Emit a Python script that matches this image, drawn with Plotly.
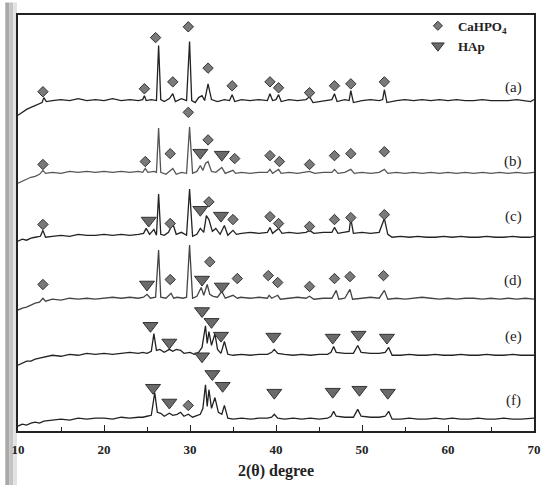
import plotly.graph_objects as go

# ---------------- data (2-theta in degrees, intensity in arbitrary units above each trace's baseline) -------------
labels = ["(a)", "(b)", "(c)", "(d)", "(e)", "(f)"]

xa = [10.0,10.5,11.0,11.5,12.0,12.5,12.8,13.0,13.3,14.0,15.0,16.0,17.0,18.0,19.0,20.0,21.0,22.0,23.0,24.0,24.5,24.7,24.9,25.5,26.1,26.35,26.6,27.0,27.6,28.0,28.3,29.0,29.6,29.95,30.2,30.6,31.0,31.4,31.7,32.1,32.5,33.2,34.0,34.6,34.9,35.2,36.0,37.0,38.0,39.0,39.3,39.6,40.0,40.3,40.6,41.5,42.5,43.5,43.9,44.3,45.5,46.5,46.8,47.1,48.0,48.5,48.7,49.0,50.0,51.0,52.0,52.4,52.6,52.9,54.0,55.0,56.0,57.0,58.0,59.0,60.0,61.0,62.0,63.0,64.0,65.0,66.0,67.0,68.0,69.0,69.6,70.0]
ya = [-14,-11,-8,-6,-4,-2,-1,4,0,1,2,1,3,1,2,1,3,1,2,1,2,6,1,2,1,57,2,0,3,8,0,3,1,61,1,-1,4,6,1,18,2,0,2,1,7,0,2,1,2,1,8,1,2,7,0,2,1,2,5,-1,1,2,8,0,2,1,11,-1,1,2,1,2,12,-1,1,2,1,2,1,2,1,2,1,1,2,1,1,1,2,1,0,2]

xb = [10.0,10.5,11.0,11.5,12.0,12.5,12.9,13.2,14.0,15.0,16.0,17.0,18.0,19.0,20.0,21.0,22.0,23.0,24.0,24.5,24.8,25.1,25.8,26.1,26.35,26.6,27.2,27.7,28.0,28.4,29.0,29.6,29.95,30.3,30.8,31.2,31.5,31.8,32.1,32.5,33.0,33.7,34.1,35.0,35.3,36.0,37.0,38.0,39.0,39.3,39.6,40.3,40.6,41.5,42.5,43.9,44.5,45.5,46.5,46.8,47.2,48.0,48.7,49.1,50.0,51.0,52.0,52.6,53.0,54.0,55.0,56.0,57.0,58.0,59.0,60.0,61.0,62.0,63.0,64.0,65.0,66.0,67.0,68.0,69.0,70.0]
yb = [-10,-8,-6,-4,-3,-1,3,0,1,0,2,1,2,1,2,1,2,1,2,1,5,1,2,1,46,1,-1,3,5,-1,1,0,47,0,2,8,3,10,12,2,1,6,0,3,0,1,0,1,1,4,0,4,0,1,0,2,0,1,1,4,0,1,4,0,1,0,1,4,0,1,0,1,0,1,0,1,0,1,0,1,0,1,0,1,0,1]

xc = [10.0,10.5,11.0,11.5,12.0,12.6,12.9,13.2,14.0,15.0,16.0,17.0,18.0,19.0,20.0,21.0,22.0,23.0,24.0,24.6,24.9,25.3,25.8,26.1,26.35,26.6,27.0,27.5,28.0,28.4,29.0,29.6,29.95,30.3,30.8,31.2,31.6,31.9,32.2,32.6,33.0,33.5,34.0,34.4,35.0,35.4,36.0,37.0,38.0,39.0,39.3,39.6,40.3,40.7,41.5,42.5,43.5,43.9,44.4,45.5,46.5,46.8,47.2,48.0,48.5,48.7,49.0,50.0,51.0,52.0,52.6,53.0,53.5,54.5,55.5,56.5,57.5,58.5,59.5,60.5,61.5,62.5,63.5,64.5,65.5,66.5,67.5,68.5,69.5,70.0]
yc = [-4,-2,-3,-1,0,1,7,0,1,2,1,3,2,2,3,2,3,2,3,4,9,3,8,2,44,3,2,5,14,3,5,2,49,1,3,9,5,22,18,6,9,3,12,2,7,3,4,5,4,5,10,4,9,4,5,4,5,7,4,5,5,10,4,5,6,19,4,5,4,5,19,3,0,1,0,1,0,0,1,0,1,0,0,1,0,0,1,0,0,1]

xd = [10.0,10.5,11.0,11.5,12.0,12.5,12.9,13.2,14.0,15.0,16.0,17.0,18.0,19.0,20.0,21.0,22.0,23.0,24.0,24.6,25.0,25.4,26.0,26.35,26.6,27.2,27.8,28.1,28.5,29.2,29.6,29.95,30.3,30.8,31.3,31.6,32.0,32.3,32.7,33.2,33.7,34.1,35.0,35.5,35.9,37.0,38.0,39.0,39.2,39.5,40.2,40.5,41.5,42.5,43.5,43.9,44.4,45.5,46.5,47.0,47.3,48.0,48.6,48.9,50.0,51.0,52.0,52.6,53.0,54.0,55.0,56.0,57.0,58.0,59.0,60.0,61.0,62.0,63.0,64.0,65.0,66.0,67.0,68.0,69.0,70.0]
yd = [-11,-9,-8,-6,-4,-3,1,-2,0,-1,1,0,1,0,1,2,1,2,1,2,5,1,2,50,2,1,6,1,2,1,2,55,1,3,12,4,15,5,3,2,8,1,4,1,2,1,2,1,4,1,4,0,1,2,1,3,0,1,1,9,0,1,10,0,1,2,1,9,0,1,0,1,2,1,0,1,0,1,1,0,1,0,1,0,1,0]

xe = [10.0,10.5,11.0,11.5,12.0,12.5,13.0,13.5,14.0,15.0,16.0,17.0,18.0,19.0,20.0,21.0,22.0,23.0,24.0,24.5,25.0,25.5,25.8,26.1,26.5,27.0,27.6,28.0,28.4,28.9,29.3,30.0,30.5,31.0,31.4,31.8,32.0,32.2,32.5,32.9,33.2,33.6,34.0,34.4,35.0,36.0,37.0,38.0,39.0,39.5,39.8,40.2,41.0,42.0,43.0,44.0,45.0,46.0,46.4,46.7,47.0,48.0,49.0,49.5,49.9,51.0,52.0,52.7,53.1,53.5,54.5,55.5,56.5,57.5,58.5,59.5,60.5,61.5,62.5,63.5,64.5,65.5,66.5,67.5,68.5,69.5,70.0]
ye = [-10,-8,-6,-6,-4,-3,-2,-1,0,-1,1,0,2,1,2,1,2,3,2,3,2,4,22,5,6,3,6,4,6,5,2,3,1,3,8,30,12,24,10,22,6,2,14,1,0,1,0,1,1,3,6,2,1,0,1,0,1,1,3,9,3,2,2,10,3,2,2,3,8,0,0,1,0,0,1,0,0,1,0,0,1,0,0,1,0,0,0]

xf = [10.0,10.5,11.0,11.5,12.0,12.5,13.0,14.0,15.0,16.0,17.0,18.0,19.0,20.0,21.0,22.0,23.0,24.0,24.5,25.0,25.5,25.9,26.2,26.6,27.0,27.6,28.0,28.5,28.9,29.3,29.8,30.3,30.8,31.2,31.5,31.8,32.0,32.2,32.5,32.9,33.3,33.7,34.0,34.4,35.0,36.0,37.0,38.0,39.0,39.5,39.8,40.2,41.0,42.0,43.0,44.0,45.0,46.0,46.4,46.7,47.0,48.0,49.0,49.5,49.9,51.0,52.0,52.7,53.1,53.5,54.5,55.5,56.5,57.5,58.5,59.5,60.5,61.5,62.5,63.5,64.5,65.5,66.5,67.5,68.5,69.5,70.0]
yf = [-6,-4,-5,-3,-2,-3,-1,0,1,0,2,1,2,2,1,3,2,3,3,4,5,28,8,7,4,7,5,6,8,4,6,3,5,6,12,36,14,31,12,23,8,6,15,2,1,2,1,2,2,3,6,2,1,2,1,2,1,2,4,9,4,3,3,11,4,3,3,4,9,1,1,2,1,1,2,1,2,1,1,2,1,1,2,1,1,2,2]

X = [xa, xb, xc, xd, xe, xf]
Y = [ya, yb, yc, yd, ye, yf]

# CaHPO4 (diamond) and HAp (triangle) marker annotations: (2-theta, height above baseline)
dia_x = [[12.9,24.7,26.0,28.0,29.8,32.1,34.9,39.3,40.3,43.9,46.8,48.7,52.6],
         [12.9,24.8,27.7,29.8,32.1,35.2,39.3,40.4,43.9,46.8,48.7,52.6],
         [12.9,27.7,32.2,35.0,39.3,40.3,43.9,46.8,48.7,52.6],
         [12.9,27.7,32.3,35.5,39.1,40.2,43.9,46.8,48.6,52.5],
         [],
         [29.8]]
dia_h = [[10,13,65,20,76,34,16,20,14,9,16,18,20],
         [9,12,20,62,34,15,18,12,9,18,20,22],
         [13,14,36,18,21,14,11,18,20,23],
         [15,20,38,21,24,17,13,21,23,24],
         [],
         [15]]
tri_x = [[],
         [31.2,33.7],
         [25.2,31.2,33.6],
         [25.0,31.4,33.7],
         [25.4,27.6,31.4,32.5,33.6,39.7,46.6,49.6,52.9],
         [25.7,27.6,31.4,32.6,33.8,39.8,46.6,49.7,53.0]]
tri_h = [[],
         [21,19],
         [17,28,22],
         [15,20,13],
         [30,13,45,34,20,19,18,21,18],
         [33,18,65,47,35,28,29,31,28]]

x_ticks = [10, 20, 30, 40, 50, 60, 70]

# ---------------- layout constants -------------
OFFSETS = [335, 262, 197, 134, 77, 11]      # vertical stacking of the six patterns
LABEL_DY = [14, 12, 21, 19, 19, 20]         # label height above each baseline
LABEL_X = 67.6
SERIF = "Liberation Serif"
LINE_COLORS = ["#222222", "#555555", "#222222", "#444444", "#222222", "#222222"]

fig = go.Figure()

for i in range(6):
    off = OFFSETS[i]
    fig.add_trace(go.Scatter(
        x=X[i], y=[off + v for v in Y[i]], mode="lines",
        line=dict(color=LINE_COLORS[i], width=1.3),
        showlegend=False, hoverinfo="skip"))

for i in range(6):
    off = OFFSETS[i]
    if dia_x[i]:
        fig.add_trace(go.Scatter(
            x=dia_x[i], y=[off + h for h in dia_h[i]], mode="markers",
            marker=dict(symbol="diamond", size=8, color="#7a7a7a",
                        line=dict(color="#333333", width=1)),
            showlegend=False, hoverinfo="skip", cliponaxis=False))
    if tri_x[i]:
        fig.add_trace(go.Scatter(
            x=tri_x[i], y=[off + h for h in tri_h[i]], mode="markers",
            marker=dict(symbol="triangle-down", size=13, color="#6a6a6a",
                        line=dict(color="#333333", width=1)),
            showlegend=False, hoverinfo="skip", cliponaxis=False))

# legend entries
fig.add_trace(go.Scatter(x=[None], y=[None], mode="markers", name="CaHPO<sub>4</sub>",
                         marker=dict(symbol="diamond", size=7, color="#7a7a7a",
                                     line=dict(color="#333333", width=1))))
fig.add_trace(go.Scatter(x=[None], y=[None], mode="markers", name="HAp",
                         marker=dict(symbol="triangle-down", size=11, color="#6a6a6a",
                                     line=dict(color="#333333", width=1))))

for i, lab in enumerate(labels):
    fig.add_annotation(x=LABEL_X, y=OFFSETS[i] + LABEL_DY[i], text=lab, showarrow=False,
                       font=dict(family=SERIF, size=15, color="#222222"),
                       xanchor="center", yanchor="middle")

# faint scan shadow along the left edge of the page
for x0, x1, col in [(0, 4, "#a8a8a8"), (4, 8, "#c4c4c4"), (8, 12, "#e2e2e2")]:
    fig.add_shape(type="rect", xref="paper", yref="paper",
                  x0=(x0 - 13) / 528, x1=(x1 - 13) / 528, y0=-0.13, y1=1.03,
                  fillcolor=col, line=dict(width=0), layer="below")

fig.update_layout(
    width=552, height=488,
    margin=dict(l=13, r=11, t=11, b=54),
    paper_bgcolor="white", plot_bgcolor="white",
    font=dict(family=SERIF, color="#222222"),
    legend=dict(x=0.775, y=1.01, xanchor="left", yanchor="top",
                bgcolor="rgba(0,0,0,0)", borderwidth=0,
                font=dict(family=SERIF, size=13, color="#222222", weight="bold"),
                itemsizing="trace", tracegroupgap=0),
    xaxis=dict(range=[10, 70], tickvals=x_ticks, ticktext=[str(t) for t in x_ticks],
               ticks="inside", ticklen=6, tickwidth=1.3, tickcolor="#222222",
               ticklabeloverflow="allow", ticklabelstandoff=6,
               minor=dict(dtick=5, ticks="inside", ticklen=4, tickcolor="#222222"),
               showline=True, linecolor="#222222", linewidth=1.6, mirror=True,
               showgrid=False, zeroline=False,
               tickfont=dict(family=SERIF, size=13, color="#222222", weight="bold"),
               title=dict(text="2(θ) degree", standoff=8,
                          font=dict(family=SERIF, size=16, color="#222222", weight="bold"))),
    yaxis=dict(range=[0, 423], showticklabels=False, ticks="",
               showline=True, linecolor="#222222", linewidth=1.6, mirror=True,
               showgrid=False, zeroline=False),
)

fig.write_html("out.html", config={"displayModeBar": False},
               post_script="document.body.style.margin='0px';")
